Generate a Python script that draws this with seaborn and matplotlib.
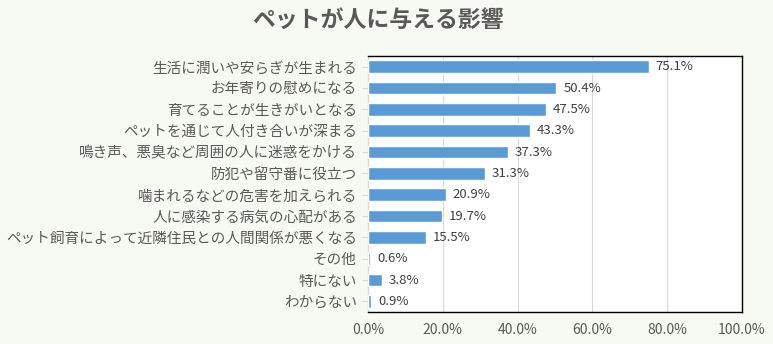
import matplotlib
matplotlib.use("Agg")
import matplotlib.pyplot as plt
import seaborn as sns
import pandas as pd
from matplotlib.ticker import FuncFormatter

categories = [
    "生活に潤いや安らぎが生まれる",
    "お年寄りの慰めになる",
    "育てることが生きがいとなる",
    "ペットを通じて人付き合いが深まる",
    "鳴き声、悪臭など周囲の人に迷惑をかける",
    "防犯や留守番に役立つ",
    "噛まれるなどの危害を加えられる",
    "人に感染する病気の心配がある",
    "ペット飼育によって近隣住民との人間関係が悪くなる",
    "その他",
    "特にない",
    "わからない",
]
values = [75.1, 50.4, 47.5, 43.3, 37.3, 31.3, 20.9, 19.7, 15.5, 0.6, 3.8, 0.9]
x_ticks = [0, 20, 40, 60, 80, 100]
title = "ペットが人に与える影響"

df = pd.DataFrame({"cat": categories, "val": values})

sns.set_theme(style="white")
plt.rcParams["font.family"] = ["Noto Sans CJK JP", "DejaVu Sans"]

bg = "#f7f9f3"
txt = "#595959"
fig = plt.figure(figsize=(7.73, 3.44), dpi=100, facecolor=bg)
ax = fig.add_axes([368/773, 1-312/344, (742-368)/773, (312-56)/344])
ax.set_facecolor("white")

sns.barplot(data=df, x="val", y="cat", color="#5b9bd5", saturation=1,
            width=0.6, ax=ax, zorder=3)

ax.set_xlim(0, 100)
ax.set_xticks(x_ticks)
ax.xaxis.set_major_formatter(FuncFormatter(lambda v, p: f"{v:.1f}%"))
ax.grid(axis="x", color="#d9d9d9", linewidth=0.8, zorder=0)
ax.set_axisbelow(True)
ax.set_xlabel("")
ax.set_ylabel("")

for s in ax.spines.values():
    s.set_visible(True)
    s.set_color("black")
    s.set_linewidth(1.0)
ax.spines["left"].set_color("#d9d9d9")

ax.tick_params(axis="x", length=0, pad=8, labelsize=10, labelcolor=txt)
ax.tick_params(axis="y", length=4, width=0.8, color="#d9d9d9", left=True,
               pad=4, labelsize=10.5, labelcolor=txt)

for i, v in enumerate(values):
    ax.text(v + 1.8, i, f"{v:.1f}%", va="center", ha="left",
            fontsize=9.5, color="#404040")

fig.text(378/773, 1-20/344, title, ha="center", va="center",
         fontsize=16.5, fontweight="bold", color=txt)

fig.savefig("out.png", dpi=100, facecolor=bg)
